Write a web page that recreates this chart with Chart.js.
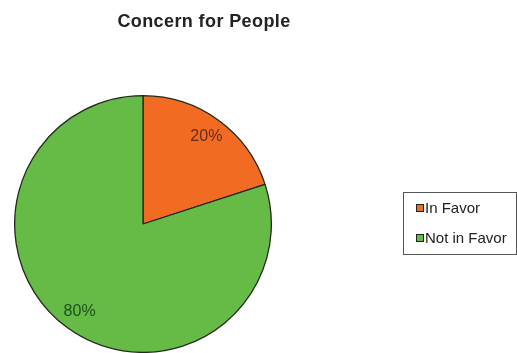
<!DOCTYPE html>
<html lang="en">
<head>
  <meta charset="UTF-8" />
  <title>Concern for People</title>
  <script src="https://cdn.jsdelivr.net/npm/chart.js"></script>
  <style>
    body { margin: 0; background: #ffffff; }
    #wrap { width: 517px; height: 353px; position: relative; }
  </style>
</head>
<body>
  <div id="wrap"><canvas id="pieChart" width="517" height="353"></canvas></div>
  <script>
    const chartTitle = 'Concern for People';
    const categories = ['In Favor', 'Not in Favor'];
    const shares = [20, 80];
    const sliceColors = ['#f26b22', '#66bb46'];
    const labelColors = ['#6b2a12', '#1e4f1e'];

    // title, slice labels and boxed legend
    const decorations = {
      id: 'decorations',
      afterDraw(chart) {
        const ctx = chart.ctx;
        ctx.save();

        ctx.fillStyle = '#222222';
        ctx.font = 'bold 18px "Liberation Sans", Arial, sans-serif';
        ctx.letterSpacing = '0.4px';
        ctx.textAlign = 'center';
        ctx.textBaseline = 'middle';
        ctx.fillText(chartTitle, 204, 22);
        ctx.letterSpacing = '0px';

        const total = shares.reduce((a, b) => a + b, 0);
        ctx.font = '16px "Liberation Sans", Arial, sans-serif';
        chart.getDatasetMeta(0).data.forEach((arc, i) => {
          const mid = (arc.startAngle + arc.endAngle) / 2;
          const r = arc.outerRadius * 0.84;
          ctx.fillStyle = labelColors[i];
          ctx.fillText(Math.round(shares[i] / total * 100) + '%',
            arc.x + Math.cos(mid) * r, arc.y + Math.sin(mid) * r);
        });

        // legend
        ctx.strokeStyle = '#555555';
        ctx.lineWidth = 1;
        ctx.strokeRect(403.5, 192.5, 113, 62);
        ctx.textAlign = 'left';
        ctx.font = '15px "Liberation Sans", Arial, sans-serif';
        categories.forEach((name, i) => {
          const y = 208 + i * 30;
          ctx.fillStyle = sliceColors[i];
          ctx.fillRect(417, y - 3, 6, 6);
          ctx.strokeStyle = '#222222';
          ctx.strokeRect(416.5, y - 3.5, 7, 7);
          ctx.fillStyle = '#222222';
          ctx.fillText(name, 425, y + 1);
        });

        ctx.restore();
      }
    };

    new Chart(document.getElementById('pieChart'), {
      type: 'pie',
      data: {
        labels: categories,
        datasets: [{
          data: shares,
          backgroundColor: sliceColors,
          borderColor: '#1f2a1a',
          borderWidth: 1.3
        }]
      },
      options: {
        responsive: false,
        animation: false,
        layout: { padding: { left: 14, top: 95, right: 245, bottom: 0 } },
        plugins: {
          legend: { display: false },
          tooltip: { enabled: false }
        }
      },
      plugins: [decorations]
    });
  </script>
</body>
</html>
